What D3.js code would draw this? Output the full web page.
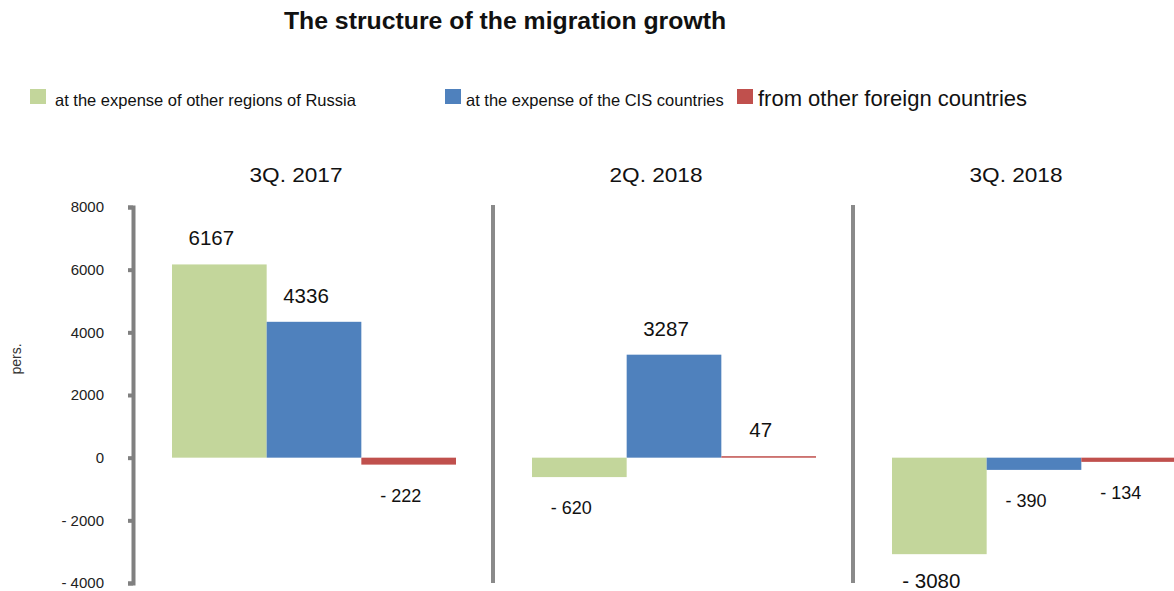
<!DOCTYPE html>
<html><head><meta charset="utf-8">
<script src="https://cdn.jsdelivr.net/npm/d3@7"></script>
<style>body{margin:0;background:#fff;} text{font-family:"Liberation Sans",Arial,sans-serif;}</style>
</head><body><svg id="c" width="1174" height="591"></svg>
<script>
const periods = ["3Q. 2017", "2Q. 2018", "3Q. 2018"];
const seriesNames = ["at the expense of other regions of Russia", "at the expense of the CIS countries", "from other foreign countries"];
const seriesColors = ["#c3d69b", "#4f81bd", "#c0504d"];
const russia = [6167, -620, -3080];
const cis = [4336, 3287, -390];
const foreign = [-222, 47, -134];
const yTicks = [-4000, -2000, 0, 2000, 4000, 6000, 8000];

const svg = d3.select("#c");
const y = d3.scaleLinear().domain([-4000, 8000]).range([583, 207]);
const panel = d3.scaleBand().domain(periods).range([133, 1213]).padding(0);
const inner = d3.scaleBand().domain([0,1,2]).range([39, 323]).padding(0);
const fmt = v => v < 0 ? "- " + Math.abs(v) : String(v);

svg.append("text").attr("x", 505).attr("y", 29).attr("text-anchor", "middle")
  .attr("font-size", 24.8).attr("font-weight", "bold").attr("fill", "#111").text("The structure of the migration growth");

// legend
const legX = [30, 445, 737], legFs = [16.5, 16.5, 22], legTX = [55, 466, 758];
seriesNames.forEach((n, i) => {
  svg.append("rect").attr("x", legX[i]).attr("y", 89).attr("width", 16).attr("height", 15).attr("fill", seriesColors[i]);
  svg.append("text").attr("x", legTX[i]).attr("y", 106).attr("font-size", legFs[i]).attr("fill", "#111").text(n);
});

// y axis
const ax = svg.append("g").attr("transform", "translate(133,0)")
  .call(d3.axisLeft(y).tickValues(yTicks).tickSize(5).tickPadding(24).tickFormat(fmt));
ax.selectAll("path,line").attr("stroke", "#808080").attr("stroke-width", 4);
ax.selectAll("text").attr("font-size", 15).attr("fill", "#222").attr("font-family", "Liberation Sans, Arial, sans-serif");

svg.append("text").attr("transform", "translate(21,359) rotate(-90)").attr("text-anchor", "middle")
  .attr("font-size", 14).attr("fill", "#333").text("pers.");

// dividers
periods.slice(1).forEach(p => {
  svg.append("line").attr("x1", panel(p)).attr("x2", panel(p)).attr("y1", 205).attr("y2", 583)
    .attr("stroke", "#8a8a8a").attr("stroke-width", 4);
});

const series = [russia, cis, foreign];
periods.forEach((p, pi) => {
  const px = panel(p);
  svg.append("text").attr("x", px + inner(0) + 142 - 18).attr("y", 182).attr("text-anchor", "middle")
    .attr("font-size", 21).attr("textLength", 93).attr("lengthAdjust", "spacingAndGlyphs").attr("fill", "#111").text(p);
  series.forEach((s, si) => {
    const v = s[pi];
    const x0 = px + inner(si);
    svg.append("rect").attr("x", x0).attr("width", inner.bandwidth())
      .attr("y", y(Math.max(0, v))).attr("height", Math.max(1.5, Math.abs(y(v) - y(0))))
      .attr("fill", seriesColors[si]);
    const big = Math.abs(v) > 1000 || v === 47;
    svg.append("text").attr("x", x0 + inner.bandwidth() / 2 - 8)
      .attr("y", v >= 0 ? y(v) - 19 : Math.min(y(v) + 37, 588))
      .attr("text-anchor", "middle").attr("font-size", big ? 20.5 : 18).attr("fill", "#111").text(fmt(v));
  });
});
</script></body></html>
